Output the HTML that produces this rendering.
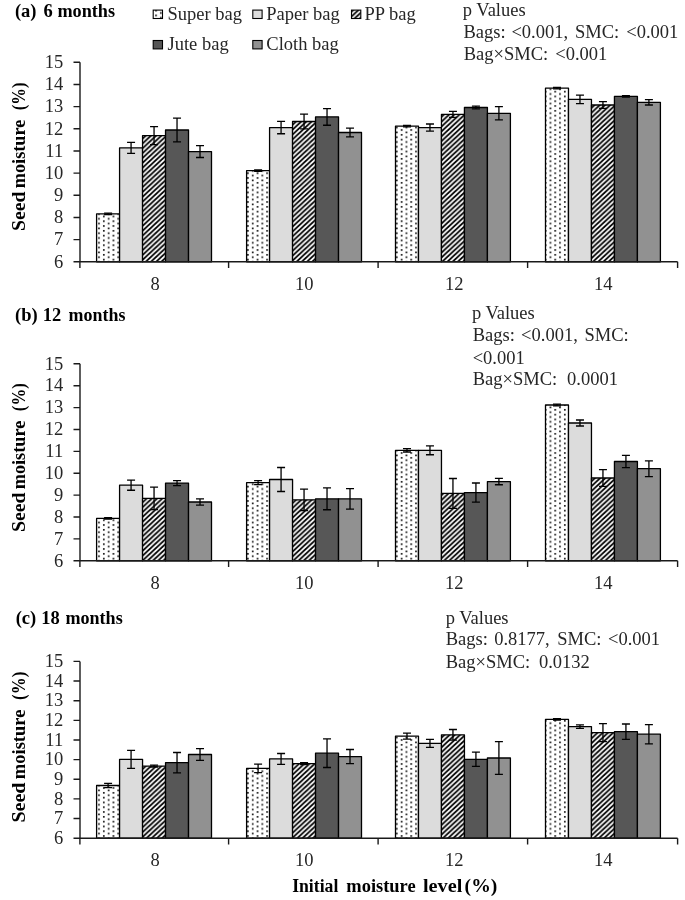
<!DOCTYPE html>
<html><head><meta charset="utf-8"><style>
html,body{margin:0;padding:0;background:#fff;}
svg{display:block;filter:blur(0.3px);}
text{font-family:"Liberation Serif",serif;fill:#262626;}
text[font-weight="bold"]{fill:#000;}
</style></head><body>
<svg width="685" height="900" viewBox="0 0 685 900">
<defs><pattern id="dots00" patternUnits="userSpaceOnUse" width="9.6" height="4.8" x="102.95" y="258.75"><rect width="9.6" height="4.8" fill="#fff"/><rect x="0" y="0" width="1.7" height="1.7" fill="#1a1a1a"/><rect x="4.8" y="2.4" width="1.7" height="1.7" fill="#1a1a1a"/><rect x="4.8" y="-2.4" width="1.7" height="1.7" fill="#1a1a1a"/></pattern><pattern id="dots01" patternUnits="userSpaceOnUse" width="9.6" height="4.8" x="256.65" y="258.75"><rect width="9.6" height="4.8" fill="#fff"/><rect x="0" y="0" width="1.7" height="1.7" fill="#1a1a1a"/><rect x="4.8" y="2.4" width="1.7" height="1.7" fill="#1a1a1a"/><rect x="4.8" y="-2.4" width="1.7" height="1.7" fill="#1a1a1a"/></pattern><pattern id="dots02" patternUnits="userSpaceOnUse" width="9.6" height="4.8" x="400.75" y="258.75"><rect width="9.6" height="4.8" fill="#fff"/><rect x="0" y="0" width="1.7" height="1.7" fill="#1a1a1a"/><rect x="4.8" y="2.4" width="1.7" height="1.7" fill="#1a1a1a"/><rect x="4.8" y="-2.4" width="1.7" height="1.7" fill="#1a1a1a"/></pattern><pattern id="dots03" patternUnits="userSpaceOnUse" width="9.6" height="4.8" x="554.35" y="258.75"><rect width="9.6" height="4.8" fill="#fff"/><rect x="0" y="0" width="1.7" height="1.7" fill="#1a1a1a"/><rect x="4.8" y="2.4" width="1.7" height="1.7" fill="#1a1a1a"/><rect x="4.8" y="-2.4" width="1.7" height="1.7" fill="#1a1a1a"/></pattern><pattern id="dots10" patternUnits="userSpaceOnUse" width="9.6" height="4.8" x="102.95" y="557.75"><rect width="9.6" height="4.8" fill="#fff"/><rect x="0" y="0" width="1.7" height="1.7" fill="#1a1a1a"/><rect x="4.8" y="2.4" width="1.7" height="1.7" fill="#1a1a1a"/><rect x="4.8" y="-2.4" width="1.7" height="1.7" fill="#1a1a1a"/></pattern><pattern id="dots11" patternUnits="userSpaceOnUse" width="9.6" height="4.8" x="256.65" y="557.75"><rect width="9.6" height="4.8" fill="#fff"/><rect x="0" y="0" width="1.7" height="1.7" fill="#1a1a1a"/><rect x="4.8" y="2.4" width="1.7" height="1.7" fill="#1a1a1a"/><rect x="4.8" y="-2.4" width="1.7" height="1.7" fill="#1a1a1a"/></pattern><pattern id="dots12" patternUnits="userSpaceOnUse" width="9.6" height="4.8" x="400.75" y="557.75"><rect width="9.6" height="4.8" fill="#fff"/><rect x="0" y="0" width="1.7" height="1.7" fill="#1a1a1a"/><rect x="4.8" y="2.4" width="1.7" height="1.7" fill="#1a1a1a"/><rect x="4.8" y="-2.4" width="1.7" height="1.7" fill="#1a1a1a"/></pattern><pattern id="dots13" patternUnits="userSpaceOnUse" width="9.6" height="4.8" x="554.35" y="557.75"><rect width="9.6" height="4.8" fill="#fff"/><rect x="0" y="0" width="1.7" height="1.7" fill="#1a1a1a"/><rect x="4.8" y="2.4" width="1.7" height="1.7" fill="#1a1a1a"/><rect x="4.8" y="-2.4" width="1.7" height="1.7" fill="#1a1a1a"/></pattern><pattern id="dots20" patternUnits="userSpaceOnUse" width="9.6" height="4.8" x="102.95" y="835.15"><rect width="9.6" height="4.8" fill="#fff"/><rect x="0" y="0" width="1.7" height="1.7" fill="#1a1a1a"/><rect x="4.8" y="2.4" width="1.7" height="1.7" fill="#1a1a1a"/><rect x="4.8" y="-2.4" width="1.7" height="1.7" fill="#1a1a1a"/></pattern><pattern id="dots21" patternUnits="userSpaceOnUse" width="9.6" height="4.8" x="256.65" y="835.15"><rect width="9.6" height="4.8" fill="#fff"/><rect x="0" y="0" width="1.7" height="1.7" fill="#1a1a1a"/><rect x="4.8" y="2.4" width="1.7" height="1.7" fill="#1a1a1a"/><rect x="4.8" y="-2.4" width="1.7" height="1.7" fill="#1a1a1a"/></pattern><pattern id="dots22" patternUnits="userSpaceOnUse" width="9.6" height="4.8" x="400.75" y="835.15"><rect width="9.6" height="4.8" fill="#fff"/><rect x="0" y="0" width="1.7" height="1.7" fill="#1a1a1a"/><rect x="4.8" y="2.4" width="1.7" height="1.7" fill="#1a1a1a"/><rect x="4.8" y="-2.4" width="1.7" height="1.7" fill="#1a1a1a"/></pattern><pattern id="dots23" patternUnits="userSpaceOnUse" width="9.6" height="4.8" x="554.35" y="835.15"><rect width="9.6" height="4.8" fill="#fff"/><rect x="0" y="0" width="1.7" height="1.7" fill="#1a1a1a"/><rect x="4.8" y="2.4" width="1.7" height="1.7" fill="#1a1a1a"/><rect x="4.8" y="-2.4" width="1.7" height="1.7" fill="#1a1a1a"/></pattern><pattern id="dots" patternUnits="userSpaceOnUse" width="9.7" height="4.85" x="0" y="0"><rect width="9.7" height="4.85" fill="#fff"/><rect x="0" y="0" width="1.7" height="1.7" fill="#1a1a1a"/><rect x="4.8" y="2.4" width="1.7" height="1.7" fill="#1a1a1a"/></pattern><pattern id="hatch" patternUnits="userSpaceOnUse" width="5.2" height="4.85"><rect width="5.2" height="4.85" fill="#fff"/><path d="M-5.2,4.85L5.2,-4.85M0,4.85L5.2,0M0,9.7L10.4,0" stroke="#000" stroke-width="1.773" stroke-linecap="square"/></pattern></defs>
<rect width="685" height="900" fill="#fff"/>
<rect x="96.60" y="213.90" width="22.98" height="47.90" fill="url(#dots00)" stroke="#000" stroke-width="1.3" stroke-linejoin="round"/>
<rect x="119.58" y="147.80" width="22.98" height="114.00" fill="#dcdcdc" stroke="#000" stroke-width="1.3" stroke-linejoin="round"/>
<rect x="142.56" y="135.70" width="22.98" height="126.10" fill="url(#hatch)" stroke="#000" stroke-width="1.3" stroke-linejoin="round"/>
<rect x="165.54" y="130.00" width="22.98" height="131.80" fill="#575757" stroke="#000" stroke-width="1.3" stroke-linejoin="round"/>
<rect x="188.52" y="151.60" width="22.98" height="110.20" fill="#919191" stroke="#000" stroke-width="1.3" stroke-linejoin="round"/>
<rect x="246.60" y="170.60" width="22.98" height="91.20" fill="url(#dots01)" stroke="#000" stroke-width="1.3" stroke-linejoin="round"/>
<rect x="269.58" y="127.60" width="22.98" height="134.20" fill="#dcdcdc" stroke="#000" stroke-width="1.3" stroke-linejoin="round"/>
<rect x="292.56" y="121.50" width="22.98" height="140.30" fill="url(#hatch)" stroke="#000" stroke-width="1.3" stroke-linejoin="round"/>
<rect x="315.54" y="116.90" width="22.98" height="144.90" fill="#575757" stroke="#000" stroke-width="1.3" stroke-linejoin="round"/>
<rect x="338.52" y="132.50" width="22.98" height="129.30" fill="#919191" stroke="#000" stroke-width="1.3" stroke-linejoin="round"/>
<rect x="395.50" y="126.10" width="22.98" height="135.70" fill="url(#dots02)" stroke="#000" stroke-width="1.3" stroke-linejoin="round"/>
<rect x="418.48" y="127.60" width="22.98" height="134.20" fill="#dcdcdc" stroke="#000" stroke-width="1.3" stroke-linejoin="round"/>
<rect x="441.46" y="114.30" width="22.98" height="147.50" fill="url(#hatch)" stroke="#000" stroke-width="1.3" stroke-linejoin="round"/>
<rect x="464.44" y="107.50" width="22.98" height="154.30" fill="#575757" stroke="#000" stroke-width="1.3" stroke-linejoin="round"/>
<rect x="487.42" y="113.30" width="22.98" height="148.50" fill="#919191" stroke="#000" stroke-width="1.3" stroke-linejoin="round"/>
<rect x="545.50" y="88.10" width="22.98" height="173.70" fill="url(#dots03)" stroke="#000" stroke-width="1.3" stroke-linejoin="round"/>
<rect x="568.48" y="99.30" width="22.98" height="162.50" fill="#dcdcdc" stroke="#000" stroke-width="1.3" stroke-linejoin="round"/>
<rect x="591.46" y="105.00" width="22.98" height="156.80" fill="url(#hatch)" stroke="#000" stroke-width="1.3" stroke-linejoin="round"/>
<rect x="614.44" y="96.40" width="22.98" height="165.40" fill="#575757" stroke="#000" stroke-width="1.3" stroke-linejoin="round"/>
<rect x="637.42" y="102.30" width="22.98" height="159.50" fill="#919191" stroke="#000" stroke-width="1.3" stroke-linejoin="round"/>
<path d="M108.09,213.20V214.60M104.09,213.20H112.09M104.09,214.60H112.09" stroke="#000" stroke-width="1.3" fill="none"/>
<path d="M131.07,142.30V153.30M127.07,142.30H135.07M127.07,153.30H135.07" stroke="#000" stroke-width="1.3" fill="none"/>
<path d="M154.05,126.70V144.70M150.05,126.70H158.05M150.05,144.70H158.05" stroke="#000" stroke-width="1.3" fill="none"/>
<path d="M177.03,118.15V141.85M173.03,118.15H181.03M173.03,141.85H181.03" stroke="#000" stroke-width="1.3" fill="none"/>
<path d="M200.01,145.70V157.50M196.01,145.70H204.01M196.01,157.50H204.01" stroke="#000" stroke-width="1.3" fill="none"/>
<path d="M258.09,169.90V171.30M254.09,169.90H262.09M254.09,171.30H262.09" stroke="#000" stroke-width="1.3" fill="none"/>
<path d="M281.07,121.45V133.75M277.07,121.45H285.07M277.07,133.75H285.07" stroke="#000" stroke-width="1.3" fill="none"/>
<path d="M304.05,114.20V128.80M300.05,114.20H308.05M300.05,128.80H308.05" stroke="#000" stroke-width="1.3" fill="none"/>
<path d="M327.03,108.55V125.25M323.03,108.55H331.03M323.03,125.25H331.03" stroke="#000" stroke-width="1.3" fill="none"/>
<path d="M350.01,128.20V136.80M346.01,128.20H354.01M346.01,136.80H354.01" stroke="#000" stroke-width="1.3" fill="none"/>
<path d="M406.99,125.30V126.90M402.99,125.30H410.99M402.99,126.90H410.99" stroke="#000" stroke-width="1.3" fill="none"/>
<path d="M429.97,124.00V131.20M425.97,124.00H433.97M425.97,131.20H433.97" stroke="#000" stroke-width="1.3" fill="none"/>
<path d="M452.95,111.30V117.30M448.95,111.30H456.95M448.95,117.30H456.95" stroke="#000" stroke-width="1.3" fill="none"/>
<path d="M475.93,106.10V108.90M471.93,106.10H479.93M471.93,108.90H479.93" stroke="#000" stroke-width="1.3" fill="none"/>
<path d="M498.91,106.65V119.95M494.91,106.65H502.91M494.91,119.95H502.91" stroke="#000" stroke-width="1.3" fill="none"/>
<path d="M556.99,87.40V88.80M552.99,87.40H560.99M552.99,88.80H560.99" stroke="#000" stroke-width="1.3" fill="none"/>
<path d="M579.97,95.05V103.55M575.97,95.05H583.97M575.97,103.55H583.97" stroke="#000" stroke-width="1.3" fill="none"/>
<path d="M602.95,101.70V108.30M598.95,101.70H606.95M598.95,108.30H606.95" stroke="#000" stroke-width="1.3" fill="none"/>
<path d="M625.93,95.60V97.20M621.93,95.60H629.93M621.93,97.20H629.93" stroke="#000" stroke-width="1.3" fill="none"/>
<path d="M648.91,99.60V105.00M644.91,99.60H652.91M644.91,105.00H652.91" stroke="#000" stroke-width="1.3" fill="none"/>
<path d="M80.0,62.30V261.80M73.50,62.30H80.0M73.50,84.47H80.0M73.50,106.63H80.0M73.50,128.80H80.0M73.50,150.97H80.0M73.50,173.13H80.0M73.50,195.30H80.0M73.50,217.47H80.0M73.50,239.63H80.0M73.50,261.80H80.0M73.50,261.80H677.60M79.90,261.80V268.00M228.60,261.80V268.00M378.10,261.80V268.00M527.60,261.80V268.00M677.60,261.80V268.00" stroke="#1a1a1a" stroke-width="1.4" fill="none"/>
<text transform="translate(63.20,68.10) scale(1.0,1)" font-size="18.5" text-anchor="end">15</text>
<text transform="translate(63.20,90.27) scale(1.0,1)" font-size="18.5" text-anchor="end">14</text>
<text transform="translate(63.20,112.43) scale(1.0,1)" font-size="18.5" text-anchor="end">13</text>
<text transform="translate(63.20,134.60) scale(1.0,1)" font-size="18.5" text-anchor="end">12</text>
<text transform="translate(63.20,156.77) scale(1.0,1)" font-size="18.5" text-anchor="end">11</text>
<text transform="translate(63.20,178.93) scale(1.0,1)" font-size="18.5" text-anchor="end">10</text>
<text transform="translate(63.20,201.10) scale(1.0,1)" font-size="18.5" text-anchor="end">9</text>
<text transform="translate(63.20,223.27) scale(1.0,1)" font-size="18.5" text-anchor="end">8</text>
<text transform="translate(63.20,245.43) scale(1.0,1)" font-size="18.5" text-anchor="end">7</text>
<text transform="translate(63.20,267.60) scale(1.0,1)" font-size="18.5" text-anchor="end">6</text>
<text transform="translate(155.10,290.00) scale(1.0,1)" font-size="18.5" text-anchor="middle">8</text>
<text transform="translate(304.20,290.00) scale(1.0,1)" font-size="18.5" text-anchor="middle">10</text>
<text transform="translate(454.30,290.00) scale(1.0,1)" font-size="18.5" text-anchor="middle">12</text>
<text transform="translate(603.30,290.00) scale(1.0,1)" font-size="18.5" text-anchor="middle">14</text>
<g transform="translate(24.7,230.90) rotate(-90)"><text font-size="18.5" font-weight="bold" textLength="39.43" lengthAdjust="spacingAndGlyphs">Seed</text></g>
<g transform="translate(24.7,188.16) rotate(-90)"><text font-size="18.5" font-weight="bold" textLength="68.43" lengthAdjust="spacingAndGlyphs">moisture</text></g>
<g transform="translate(24.7,110.19) rotate(-90)"><text font-size="18.5" font-weight="bold" textLength="27.79" lengthAdjust="spacingAndGlyphs">(%)</text></g>
<rect x="96.60" y="518.40" width="22.98" height="42.40" fill="url(#dots10)" stroke="#000" stroke-width="1.3" stroke-linejoin="round"/>
<rect x="119.58" y="485.20" width="22.98" height="75.60" fill="#dcdcdc" stroke="#000" stroke-width="1.3" stroke-linejoin="round"/>
<rect x="142.56" y="498.40" width="22.98" height="62.40" fill="url(#hatch)" stroke="#000" stroke-width="1.3" stroke-linejoin="round"/>
<rect x="165.54" y="483.10" width="22.98" height="77.70" fill="#575757" stroke="#000" stroke-width="1.3" stroke-linejoin="round"/>
<rect x="188.52" y="502.00" width="22.98" height="58.80" fill="#919191" stroke="#000" stroke-width="1.3" stroke-linejoin="round"/>
<rect x="246.60" y="482.70" width="22.98" height="78.10" fill="url(#dots11)" stroke="#000" stroke-width="1.3" stroke-linejoin="round"/>
<rect x="269.58" y="479.50" width="22.98" height="81.30" fill="#dcdcdc" stroke="#000" stroke-width="1.3" stroke-linejoin="round"/>
<rect x="292.56" y="499.80" width="22.98" height="61.00" fill="url(#hatch)" stroke="#000" stroke-width="1.3" stroke-linejoin="round"/>
<rect x="315.54" y="498.80" width="22.98" height="62.00" fill="#575757" stroke="#000" stroke-width="1.3" stroke-linejoin="round"/>
<rect x="338.52" y="498.80" width="22.98" height="62.00" fill="#919191" stroke="#000" stroke-width="1.3" stroke-linejoin="round"/>
<rect x="395.50" y="450.30" width="22.98" height="110.50" fill="url(#dots12)" stroke="#000" stroke-width="1.3" stroke-linejoin="round"/>
<rect x="418.48" y="450.30" width="22.98" height="110.50" fill="#dcdcdc" stroke="#000" stroke-width="1.3" stroke-linejoin="round"/>
<rect x="441.46" y="493.40" width="22.98" height="67.40" fill="url(#hatch)" stroke="#000" stroke-width="1.3" stroke-linejoin="round"/>
<rect x="464.44" y="492.60" width="22.98" height="68.20" fill="#575757" stroke="#000" stroke-width="1.3" stroke-linejoin="round"/>
<rect x="487.42" y="481.60" width="22.98" height="79.20" fill="#919191" stroke="#000" stroke-width="1.3" stroke-linejoin="round"/>
<rect x="545.50" y="405.00" width="22.98" height="155.80" fill="url(#dots13)" stroke="#000" stroke-width="1.3" stroke-linejoin="round"/>
<rect x="568.48" y="423.00" width="22.98" height="137.80" fill="#dcdcdc" stroke="#000" stroke-width="1.3" stroke-linejoin="round"/>
<rect x="591.46" y="478.00" width="22.98" height="82.80" fill="url(#hatch)" stroke="#000" stroke-width="1.3" stroke-linejoin="round"/>
<rect x="614.44" y="461.50" width="22.98" height="99.30" fill="#575757" stroke="#000" stroke-width="1.3" stroke-linejoin="round"/>
<rect x="637.42" y="468.70" width="22.98" height="92.10" fill="#919191" stroke="#000" stroke-width="1.3" stroke-linejoin="round"/>
<path d="M108.09,517.60V519.20M104.09,517.60H112.09M104.09,519.20H112.09" stroke="#000" stroke-width="1.3" fill="none"/>
<path d="M131.07,480.15V490.25M127.07,480.15H135.07M127.07,490.25H135.07" stroke="#000" stroke-width="1.3" fill="none"/>
<path d="M154.05,487.10V509.70M150.05,487.10H158.05M150.05,509.70H158.05" stroke="#000" stroke-width="1.3" fill="none"/>
<path d="M177.03,480.55V485.65M173.03,480.55H181.03M173.03,485.65H181.03" stroke="#000" stroke-width="1.3" fill="none"/>
<path d="M200.01,498.80V505.20M196.01,498.80H204.01M196.01,505.20H204.01" stroke="#000" stroke-width="1.3" fill="none"/>
<path d="M258.09,480.70V484.70M254.09,480.70H262.09M254.09,484.70H262.09" stroke="#000" stroke-width="1.3" fill="none"/>
<path d="M281.07,467.50V491.50M277.07,467.50H285.07M277.07,491.50H285.07" stroke="#000" stroke-width="1.3" fill="none"/>
<path d="M304.05,489.10V510.50M300.05,489.10H308.05M300.05,510.50H308.05" stroke="#000" stroke-width="1.3" fill="none"/>
<path d="M327.03,487.85V509.75M323.03,487.85H331.03M323.03,509.75H331.03" stroke="#000" stroke-width="1.3" fill="none"/>
<path d="M350.01,488.55V509.05M346.01,488.55H354.01M346.01,509.05H354.01" stroke="#000" stroke-width="1.3" fill="none"/>
<path d="M406.99,448.60V452.00M402.99,448.60H410.99M402.99,452.00H410.99" stroke="#000" stroke-width="1.3" fill="none"/>
<path d="M429.97,445.85V454.75M425.97,445.85H433.97M425.97,454.75H433.97" stroke="#000" stroke-width="1.3" fill="none"/>
<path d="M452.95,478.50V508.30M448.95,478.50H456.95M448.95,508.30H456.95" stroke="#000" stroke-width="1.3" fill="none"/>
<path d="M475.93,483.00V502.20M471.93,483.00H479.93M471.93,502.20H479.93" stroke="#000" stroke-width="1.3" fill="none"/>
<path d="M498.91,478.45V484.75M494.91,478.45H502.91M494.91,484.75H502.91" stroke="#000" stroke-width="1.3" fill="none"/>
<path d="M556.99,404.20V405.80M552.99,404.20H560.99M552.99,405.80H560.99" stroke="#000" stroke-width="1.3" fill="none"/>
<path d="M579.97,420.00V426.00M575.97,420.00H583.97M575.97,426.00H583.97" stroke="#000" stroke-width="1.3" fill="none"/>
<path d="M602.95,469.70V486.30M598.95,469.70H606.95M598.95,486.30H606.95" stroke="#000" stroke-width="1.3" fill="none"/>
<path d="M625.93,455.35V467.65M621.93,455.35H629.93M621.93,467.65H629.93" stroke="#000" stroke-width="1.3" fill="none"/>
<path d="M648.91,460.80V476.60M644.91,460.80H652.91M644.91,476.60H652.91" stroke="#000" stroke-width="1.3" fill="none"/>
<path d="M80.0,363.80V560.80M73.50,363.80H80.0M73.50,385.69H80.0M73.50,407.58H80.0M73.50,429.47H80.0M73.50,451.36H80.0M73.50,473.24H80.0M73.50,495.13H80.0M73.50,517.02H80.0M73.50,538.91H80.0M73.50,560.80H80.0M73.50,560.80H677.60M79.90,560.80V567.00M228.60,560.80V567.00M378.10,560.80V567.00M527.60,560.80V567.00M677.60,560.80V567.00" stroke="#1a1a1a" stroke-width="1.4" fill="none"/>
<text transform="translate(63.20,369.60) scale(1.0,1)" font-size="18.5" text-anchor="end">15</text>
<text transform="translate(63.20,391.49) scale(1.0,1)" font-size="18.5" text-anchor="end">14</text>
<text transform="translate(63.20,413.38) scale(1.0,1)" font-size="18.5" text-anchor="end">13</text>
<text transform="translate(63.20,435.27) scale(1.0,1)" font-size="18.5" text-anchor="end">12</text>
<text transform="translate(63.20,457.16) scale(1.0,1)" font-size="18.5" text-anchor="end">11</text>
<text transform="translate(63.20,479.04) scale(1.0,1)" font-size="18.5" text-anchor="end">10</text>
<text transform="translate(63.20,500.93) scale(1.0,1)" font-size="18.5" text-anchor="end">9</text>
<text transform="translate(63.20,522.82) scale(1.0,1)" font-size="18.5" text-anchor="end">8</text>
<text transform="translate(63.20,544.71) scale(1.0,1)" font-size="18.5" text-anchor="end">7</text>
<text transform="translate(63.20,566.60) scale(1.0,1)" font-size="18.5" text-anchor="end">6</text>
<text transform="translate(155.10,589.00) scale(1.0,1)" font-size="18.5" text-anchor="middle">8</text>
<text transform="translate(304.20,589.00) scale(1.0,1)" font-size="18.5" text-anchor="middle">10</text>
<text transform="translate(454.30,589.00) scale(1.0,1)" font-size="18.5" text-anchor="middle">12</text>
<text transform="translate(603.30,589.00) scale(1.0,1)" font-size="18.5" text-anchor="middle">14</text>
<g transform="translate(24.7,532.10) rotate(-90)"><text font-size="18.5" font-weight="bold" textLength="39.51" lengthAdjust="spacingAndGlyphs">Seed</text></g>
<g transform="translate(24.7,489.27) rotate(-90)"><text font-size="18.5" font-weight="bold" textLength="68.57" lengthAdjust="spacingAndGlyphs">moisture</text></g>
<g transform="translate(24.7,411.15) rotate(-90)"><text font-size="18.5" font-weight="bold" textLength="27.85" lengthAdjust="spacingAndGlyphs">(%)</text></g>
<rect x="96.60" y="785.50" width="22.98" height="52.70" fill="url(#dots20)" stroke="#000" stroke-width="1.3" stroke-linejoin="round"/>
<rect x="119.58" y="759.30" width="22.98" height="78.90" fill="#dcdcdc" stroke="#000" stroke-width="1.3" stroke-linejoin="round"/>
<rect x="142.56" y="766.10" width="22.98" height="72.10" fill="url(#hatch)" stroke="#000" stroke-width="1.3" stroke-linejoin="round"/>
<rect x="165.54" y="762.70" width="22.98" height="75.50" fill="#575757" stroke="#000" stroke-width="1.3" stroke-linejoin="round"/>
<rect x="188.52" y="754.50" width="22.98" height="83.70" fill="#919191" stroke="#000" stroke-width="1.3" stroke-linejoin="round"/>
<rect x="246.60" y="768.40" width="22.98" height="69.80" fill="url(#dots21)" stroke="#000" stroke-width="1.3" stroke-linejoin="round"/>
<rect x="269.58" y="758.90" width="22.98" height="79.30" fill="#dcdcdc" stroke="#000" stroke-width="1.3" stroke-linejoin="round"/>
<rect x="292.56" y="763.60" width="22.98" height="74.60" fill="url(#hatch)" stroke="#000" stroke-width="1.3" stroke-linejoin="round"/>
<rect x="315.54" y="753.20" width="22.98" height="85.00" fill="#575757" stroke="#000" stroke-width="1.3" stroke-linejoin="round"/>
<rect x="338.52" y="756.60" width="22.98" height="81.60" fill="#919191" stroke="#000" stroke-width="1.3" stroke-linejoin="round"/>
<rect x="395.50" y="736.10" width="22.98" height="102.10" fill="url(#dots22)" stroke="#000" stroke-width="1.3" stroke-linejoin="round"/>
<rect x="418.48" y="743.30" width="22.98" height="94.90" fill="#dcdcdc" stroke="#000" stroke-width="1.3" stroke-linejoin="round"/>
<rect x="441.46" y="734.80" width="22.98" height="103.40" fill="url(#hatch)" stroke="#000" stroke-width="1.3" stroke-linejoin="round"/>
<rect x="464.44" y="759.30" width="22.98" height="78.90" fill="#575757" stroke="#000" stroke-width="1.3" stroke-linejoin="round"/>
<rect x="487.42" y="758.00" width="22.98" height="80.20" fill="#919191" stroke="#000" stroke-width="1.3" stroke-linejoin="round"/>
<rect x="545.50" y="719.40" width="22.98" height="118.80" fill="url(#dots23)" stroke="#000" stroke-width="1.3" stroke-linejoin="round"/>
<rect x="568.48" y="726.60" width="22.98" height="111.60" fill="#dcdcdc" stroke="#000" stroke-width="1.3" stroke-linejoin="round"/>
<rect x="591.46" y="732.60" width="22.98" height="105.60" fill="url(#hatch)" stroke="#000" stroke-width="1.3" stroke-linejoin="round"/>
<rect x="614.44" y="731.70" width="22.98" height="106.50" fill="#575757" stroke="#000" stroke-width="1.3" stroke-linejoin="round"/>
<rect x="637.42" y="734.20" width="22.98" height="104.00" fill="#919191" stroke="#000" stroke-width="1.3" stroke-linejoin="round"/>
<path d="M108.09,783.40V787.60M104.09,783.40H112.09M104.09,787.60H112.09" stroke="#000" stroke-width="1.3" fill="none"/>
<path d="M131.07,750.30V768.30M127.07,750.30H135.07M127.07,768.30H135.07" stroke="#000" stroke-width="1.3" fill="none"/>
<path d="M154.05,765.20V767.00M150.05,765.20H158.05M150.05,767.00H158.05" stroke="#000" stroke-width="1.3" fill="none"/>
<path d="M177.03,752.50V772.90M173.03,752.50H181.03M173.03,772.90H181.03" stroke="#000" stroke-width="1.3" fill="none"/>
<path d="M200.01,748.60V760.40M196.01,748.60H204.01M196.01,760.40H204.01" stroke="#000" stroke-width="1.3" fill="none"/>
<path d="M258.09,764.10V772.70M254.09,764.10H262.09M254.09,772.70H262.09" stroke="#000" stroke-width="1.3" fill="none"/>
<path d="M281.07,753.50V764.30M277.07,753.50H285.07M277.07,764.30H285.07" stroke="#000" stroke-width="1.3" fill="none"/>
<path d="M304.05,762.70V764.50M300.05,762.70H308.05M300.05,764.50H308.05" stroke="#000" stroke-width="1.3" fill="none"/>
<path d="M327.03,738.90V767.50M323.03,738.90H331.03M323.03,767.50H331.03" stroke="#000" stroke-width="1.3" fill="none"/>
<path d="M350.01,749.50V763.70M346.01,749.50H354.01M346.01,763.70H354.01" stroke="#000" stroke-width="1.3" fill="none"/>
<path d="M406.99,733.10V739.10M402.99,733.10H410.99M402.99,739.10H410.99" stroke="#000" stroke-width="1.3" fill="none"/>
<path d="M429.97,739.30V747.30M425.97,739.30H433.97M425.97,747.30H433.97" stroke="#000" stroke-width="1.3" fill="none"/>
<path d="M452.95,729.50V740.10M448.95,729.50H456.95M448.95,740.10H456.95" stroke="#000" stroke-width="1.3" fill="none"/>
<path d="M475.93,752.20V766.40M471.93,752.20H479.93M471.93,766.40H479.93" stroke="#000" stroke-width="1.3" fill="none"/>
<path d="M498.91,741.70V774.30M494.91,741.70H502.91M494.91,774.30H502.91" stroke="#000" stroke-width="1.3" fill="none"/>
<path d="M556.99,718.60V720.20M552.99,718.60H560.99M552.99,720.20H560.99" stroke="#000" stroke-width="1.3" fill="none"/>
<path d="M579.97,724.90V728.30M575.97,724.90H583.97M575.97,728.30H583.97" stroke="#000" stroke-width="1.3" fill="none"/>
<path d="M602.95,723.60V741.60M598.95,723.60H606.95M598.95,741.60H606.95" stroke="#000" stroke-width="1.3" fill="none"/>
<path d="M625.93,724.00V739.40M621.93,724.00H629.93M621.93,739.40H629.93" stroke="#000" stroke-width="1.3" fill="none"/>
<path d="M648.91,724.60V743.80M644.91,724.60H652.91M644.91,743.80H652.91" stroke="#000" stroke-width="1.3" fill="none"/>
<path d="M80.0,661.40V838.20M73.50,661.40H80.0M73.50,681.04H80.0M73.50,700.69H80.0M73.50,720.33H80.0M73.50,739.98H80.0M73.50,759.62H80.0M73.50,779.27H80.0M73.50,798.91H80.0M73.50,818.56H80.0M73.50,838.20H80.0M73.50,838.20H677.60M79.90,838.20V844.40M228.60,838.20V844.40M378.10,838.20V844.40M527.60,838.20V844.40M677.60,838.20V844.40" stroke="#1a1a1a" stroke-width="1.4" fill="none"/>
<text transform="translate(63.20,667.20) scale(1.0,1)" font-size="18.5" text-anchor="end">15</text>
<text transform="translate(63.20,686.84) scale(1.0,1)" font-size="18.5" text-anchor="end">14</text>
<text transform="translate(63.20,706.49) scale(1.0,1)" font-size="18.5" text-anchor="end">13</text>
<text transform="translate(63.20,726.13) scale(1.0,1)" font-size="18.5" text-anchor="end">12</text>
<text transform="translate(63.20,745.78) scale(1.0,1)" font-size="18.5" text-anchor="end">11</text>
<text transform="translate(63.20,765.42) scale(1.0,1)" font-size="18.5" text-anchor="end">10</text>
<text transform="translate(63.20,785.07) scale(1.0,1)" font-size="18.5" text-anchor="end">9</text>
<text transform="translate(63.20,804.71) scale(1.0,1)" font-size="18.5" text-anchor="end">8</text>
<text transform="translate(63.20,824.36) scale(1.0,1)" font-size="18.5" text-anchor="end">7</text>
<text transform="translate(63.20,844.00) scale(1.0,1)" font-size="18.5" text-anchor="end">6</text>
<text transform="translate(155.10,866.40) scale(1.0,1)" font-size="18.5" text-anchor="middle">8</text>
<text transform="translate(304.20,866.40) scale(1.0,1)" font-size="18.5" text-anchor="middle">10</text>
<text transform="translate(454.30,866.40) scale(1.0,1)" font-size="18.5" text-anchor="middle">12</text>
<text transform="translate(603.30,866.40) scale(1.0,1)" font-size="18.5" text-anchor="middle">14</text>
<g transform="translate(24.7,822.60) rotate(-90)"><text font-size="18.5" font-weight="bold" textLength="40.07" lengthAdjust="spacingAndGlyphs">Seed</text></g>
<g transform="translate(24.7,779.17) rotate(-90)"><text font-size="18.5" font-weight="bold" textLength="69.54" lengthAdjust="spacingAndGlyphs">moisture</text></g>
<g transform="translate(24.7,699.94) rotate(-90)"><text font-size="18.5" font-weight="bold" textLength="28.24" lengthAdjust="spacingAndGlyphs">(%)</text></g>
<text x="14.90" y="16.80" font-size="18.5" font-weight="bold">(a)</text>
<text x="43.40" y="16.80" font-size="18.5" font-weight="bold">6</text>
<text x="57.42" y="16.80" font-size="18.5" font-weight="bold" textLength="57.68" lengthAdjust="spacingAndGlyphs">months</text>
<text x="15.10" y="320.60" font-size="18.5" font-weight="bold">(b)</text>
<text x="42.70" y="320.60" font-size="18.5" font-weight="bold">12</text>
<text x="68.53" y="320.60" font-size="18.5" font-weight="bold" textLength="56.86" lengthAdjust="spacingAndGlyphs">months</text>
<text x="15.70" y="623.90" font-size="18.5" font-weight="bold">(c)</text>
<text x="41.30" y="623.90" font-size="18.5" font-weight="bold">18</text>
<text x="65.42" y="623.90" font-size="18.5" font-weight="bold" textLength="57.27" lengthAdjust="spacingAndGlyphs">months</text>
<rect x="153.2" y="10.1" width="9.3" height="8.4" fill="url(#dots)" stroke="#000" stroke-width="1.1"/>
<text transform="translate(167.50,19.70) scale(1.0,1)" font-size="18.5">Super bag</text>
<rect x="252.8" y="10.1" width="9.3" height="8.4" fill="#dcdcdc" stroke="#000" stroke-width="1.1"/>
<text transform="translate(266.30,19.70) scale(1.0,1)" font-size="18.5">Paper bag</text>
<rect x="351.5" y="10.1" width="9.3" height="8.4" fill="url(#hatch)" stroke="#000" stroke-width="1.1"/>
<text transform="translate(364.50,19.70) scale(1.0,1)" font-size="18.5">PP bag</text>
<rect x="153.2" y="40.5" width="9.3" height="8.4" fill="#575757" stroke="#000" stroke-width="1.1"/>
<text transform="translate(167.50,49.60) scale(1.0,1)" font-size="18.5">Jute bag</text>
<rect x="252.8" y="40.5" width="9.3" height="8.4" fill="#919191" stroke="#000" stroke-width="1.1"/>
<text transform="translate(266.30,49.60) scale(1.0,1)" font-size="18.5">Cloth bag</text>
<text x="462.80" y="16.10" font-size="18.5">p Values</text>
<text x="463.40" y="37.70" font-size="18.5">Bags:</text>
<text x="511.40" y="37.70" font-size="18.5">&lt;0.001,</text>
<text x="574.90" y="37.70" font-size="18.5">SMC:</text>
<text x="626.30" y="37.70" font-size="18.5">&lt;0.001</text>
<text x="463.70" y="59.50" font-size="18.5">Bag×SMC:</text>
<text x="555.30" y="59.50" font-size="18.5">&lt;0.001</text>
<text x="471.90" y="319.30" font-size="18.5">p Values</text>
<text x="472.70" y="341.20" font-size="18.5">Bags:</text>
<text x="521.10" y="341.20" font-size="18.5">&lt;0.001,</text>
<text x="584.50" y="341.20" font-size="18.5">SMC:</text>
<text x="472.70" y="363.90" font-size="18.5">&lt;0.001</text>
<text x="472.70" y="385.00" font-size="18.5">Bag×SMC:</text>
<text x="567.00" y="385.00" font-size="18.5">0.0001</text>
<text x="445.70" y="623.70" font-size="18.5">p Values</text>
<text x="445.70" y="645.20" font-size="18.5">Bags:</text>
<text x="494.20" y="645.20" font-size="18.5">0.8177,</text>
<text x="557.30" y="645.20" font-size="18.5">SMC:</text>
<text x="608.00" y="645.20" font-size="18.5">&lt;0.001</text>
<text x="445.70" y="668.30" font-size="18.5">Bag×SMC:</text>
<text x="538.90" y="668.30" font-size="18.5">0.0132</text>
<text x="292.14" y="892.00" font-size="18.5" font-weight="bold" textLength="46.27" lengthAdjust="spacingAndGlyphs">Initial</text>
<text x="346.30" y="892.00" font-size="18.5" font-weight="bold" textLength="69.34" lengthAdjust="spacingAndGlyphs">moisture</text>
<text x="423.01" y="892.00" font-size="18.5" font-weight="bold" textLength="39.34" lengthAdjust="spacingAndGlyphs">level</text>
<text x="464.64" y="892.00" font-size="18.5" font-weight="bold" textLength="32.64" lengthAdjust="spacingAndGlyphs">(%)</text>
</svg>
</body></html>
